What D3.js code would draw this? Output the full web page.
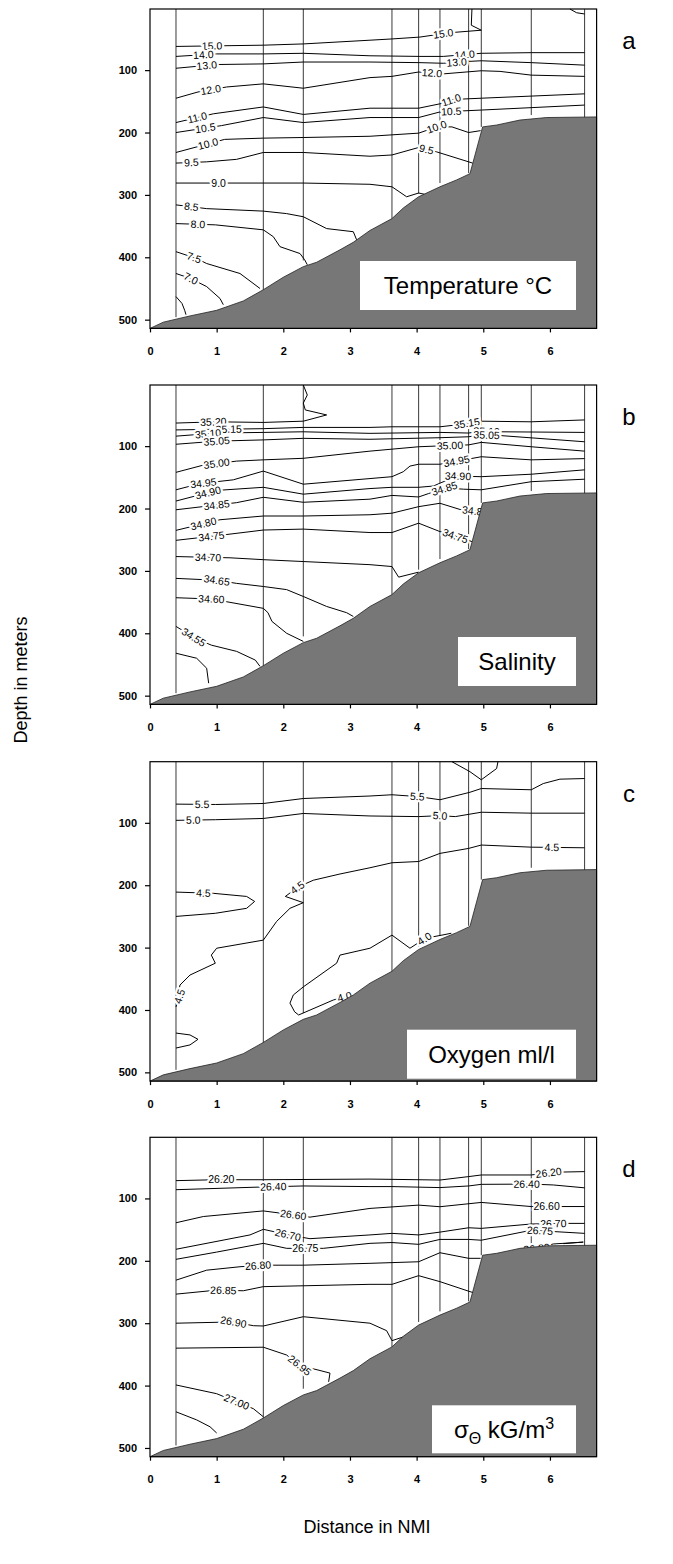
<!DOCTYPE html>
<html>
<head>
<meta charset="utf-8">
<script src="https://cdn.jsdelivr.net/npm/d3@7"></script>
<style>
  body { margin: 0; background: #fff; }
  svg { display: block; }
  text { font-family: "Liberation Sans", Arial, sans-serif; }
</style>
</head>
<body>
<svg id="chart" width="673" height="1564"></svg>
<script>
// ---- Section geometry (distance in nautical miles, depth in metres) ----
const xTicks = [0, 1, 2, 3, 4, 5, 6];
const yTicks = [100, 200, 300, 400, 500];

// CTD stations: position and deepest cast depth
const stationX     = [0.39, 1.70, 2.30, 3.63, 4.03, 4.35, 4.78, 4.97, 5.72, 6.52];
const stationDepth = [496, 453, 405, 338, 298, 281, 265, 191, 172, 177];

// Sea floor profile
const bottomX     = [0, 0.2, 0.6, 1.0, 1.4, 1.7, 2.0, 2.3, 2.5, 2.85, 3.05, 3.3, 3.63, 3.8, 4.03, 4.35, 4.6, 4.8, 4.99, 5.2, 5.55, 5.95, 6.7];
const bottomDepth = [514, 504, 494, 485, 470, 452, 432, 415, 408, 388, 376, 357, 338, 321, 303, 287, 276, 266, 191, 188, 180, 176, 175];

// ---- Temperature (°C) isolines ----
const temperature = [
  { v: "15.0", pts: [[0.39,62],[1.70,60],[2.30,58],[3.30,52],[3.63,50],[4.05,47],[4.50,40],[4.97,36],[4.82,28],[4.83,2]], at: [[0.93,60],[4.40,42]] },
  { v: "",     pts: [[6.30,2],[6.40,8],[6.52,10]], at: [] },
  { v: "14.0", pts: [[0.39,78],[1.00,74],[1.70,74],[2.30,73],[3.30,77],[4.05,78],[4.40,78],[4.97,73],[5.72,72],[6.52,72]], at: [[0.80,75],[4.72,74]] },
  { v: "13.0", pts: [[0.39,97],[1.00,91],[1.70,90],[2.30,87],[3.30,87],[4.05,88],[4.40,89],[4.78,86],[4.97,85],[5.72,88],[6.52,92]], at: [[0.85,92],[4.60,87]] },
  { v: "12.0", pts: [[0.39,145],[0.72,135],[1.15,127],[1.70,122],[2.30,129],[3.30,112],[3.63,110],[4.03,103],[4.40,106],[4.97,101],[5.25,102],[5.72,108],[6.52,110]], at: [[0.91,131],[4.23,104]] },
  { v: "11.0", pts: [[0.39,184],[0.95,170],[1.70,159],[2.30,171],[3.30,161],[4.03,161],[4.35,154],[4.55,147],[4.97,145],[6.52,138]], at: [[0.71,176],[4.52,148]] },
  { v: "10.5", pts: [[0.39,200],[1.07,189],[1.70,176],[2.30,184],[3.30,176],[4.03,176],[4.35,167],[4.97,164],[6.52,156]], at: [[0.83,193],[4.52,166]] },
  { v: "10.0", pts: [[0.39,232],[1.12,211],[1.70,209],[2.30,208],[3.30,206],[4.03,201],[4.30,191],[4.53,191],[4.78,200],[4.96,197]], at: [[0.87,218],[4.30,191]] },
  { v: "9.5",  pts: [[0.39,249],[0.85,247],[1.30,243],[1.70,232],[2.30,232],[3.30,238],[3.63,236],[4.03,224],[4.30,231],[4.84,249]], at: [[0.62,248],[4.15,226]] },
  { v: "9.0",  pts: [[0.39,281],[1.70,281],[2.30,281],[3.30,283],[3.63,287],[3.85,303],[4.03,297],[4.12,299]], at: [[1.03,281]] },
  { v: "8.5",  pts: [[0.39,316],[0.85,322],[1.70,326],[2.05,330],[2.30,335],[2.65,354],[3.05,359],[3.10,372]], at: [[0.62,319]] },
  { v: "8.0",  pts: [[0.39,346],[0.98,348],[1.70,356],[1.85,367],[1.95,383],[2.25,394],[2.32,404],[2.36,412]], at: [[0.72,347]] },
  { v: "7.5",  pts: [[0.39,391],[0.70,402],[0.85,410],[1.35,426],[1.65,450]], at: [[0.66,401]] },
  { v: "7.0",  pts: [[0.39,426],[0.61,434],[0.85,447],[1.05,466],[1.10,476]], at: [[0.62,433]] },
  { v: "",     pts: [[0.39,463],[0.48,474],[0.52,485],[0.54,492]], at: [] }
];

// ---- Salinity isolines ----
const salinity = [
  { v: "35.20", pts: [[0.39,63],[1.00,61],[1.70,62],[2.30,60],[2.65,50],[2.33,42],[2.30,31],[2.36,18],[2.30,2]], at: [[0.95,62]] },
  { v: "35.15", pts: [[0.39,74],[1.00,73],[1.70,72],[2.30,70],[3.30,70],[3.63,69],[4.03,69],[4.35,69],[4.60,66],[4.97,60],[5.72,61],[6.52,58]], at: [[1.18,72],[4.75,63]] },
  { v: "35.10", pts: [[0.39,84],[1.00,79],[1.70,78],[2.30,77],[3.30,79.5],[4.35,78],[4.78,79],[4.97,76],[5.25,77],[6.52,78]], at: [[0.87,80],[5.05,76]] },
  { v: "35.05", pts: [[0.39,97],[1.00,92],[1.70,90],[2.30,87.5],[3.30,89],[4.35,86.5],[4.78,85],[4.97,82],[5.25,83],[6.52,93]], at: [[1.00,92],[5.05,83]] },
  { v: "35.00", pts: [[0.39,142],[0.78,131],[1.30,124],[1.70,122],[2.30,119.5],[3.30,108],[4.03,101],[4.50,99],[4.78,98],[4.97,94],[5.72,101],[6.52,108]], at: [[1.00,128],[4.50,99]] },
  { v: "34.95", pts: [[0.39,170],[0.75,160],[1.25,154],[1.70,140],[2.30,161],[3.30,152],[3.63,149],[3.80,141],[3.90,132],[4.03,129],[4.35,129],[4.97,117],[5.72,122],[6.52,120]], at: [[0.80,160],[4.60,124]] },
  { v: "34.90", pts: [[0.39,188],[1.00,171],[1.70,166],[2.30,177],[3.30,168],[3.63,166],[4.03,166],[4.25,164],[4.60,148],[4.97,149],[5.72,145],[6.52,138]], at: [[0.87,175],[4.62,149]] },
  { v: "34.85", pts: [[0.39,202],[1.30,190.6],[1.70,182],[2.30,190],[3.30,185],[3.63,179],[4.03,181.5],[4.18,176],[4.45,167],[4.70,169],[4.97,170],[5.72,157],[6.52,153]], at: [[1.00,194],[4.42,169]] },
  { v: "34.80", pts: [[0.39,235],[1.05,218],[1.70,212],[2.30,212],[3.30,210],[3.63,207.5],[4.03,197],[4.35,191.6],[4.65,201.5],[4.95,205]], at: [[0.80,223],[4.88,204]] },
  { v: "34.75", pts: [[0.39,251],[1.05,243],[1.70,234.5],[2.30,233],[3.30,238.5],[3.63,238.5],[4.03,223.5],[4.35,237],[4.55,243],[4.83,253]], at: [[0.92,245],[4.58,244]] },
  { v: "34.70", pts: [[0.39,277],[1.20,279],[1.70,282],[2.30,285],[3.30,290],[3.63,293],[3.73,310],[4.03,302]], at: [[0.87,278]] },
  { v: "34.65", pts: [[0.39,312],[1.00,315],[1.30,320],[1.70,325],[2.05,330],[2.30,341],[2.65,357],[2.95,367],[3.05,373]], at: [[1.00,316]] },
  { v: "34.60", pts: [[0.39,343],[0.92,345],[1.70,360],[1.77,367],[1.83,381],[2.05,400],[2.30,413]], at: [[0.92,345]] },
  { v: "34.55", pts: [[0.39,389],[0.68,408],[0.92,419],[1.30,429],[1.58,443],[1.65,453]], at: [[0.66,406]] },
  { v: "",      pts: [[0.39,432],[0.70,440],[0.85,456],[0.88,480]], at: [] }
];

// ---- Oxygen (ml/l) isolines ----
const oxygen = [
  { v: "",    pts: [[4.53,2],[4.80,18],[4.97,31],[5.20,13],[5.22,2]], at: [] },
  { v: "5.5", pts: [[0.39,70],[0.98,70.6],[1.70,69],[2.30,61],[3.30,57],[3.63,55],[4.03,58],[4.35,63],[4.80,51],[4.97,45],[5.72,47],[5.90,37],[6.15,30],[6.52,29]], at: [[0.78,70],[4.01,58]] },
  { v: "5.0", pts: [[0.39,96],[0.98,95],[1.70,93],[2.30,85],[3.30,89],[4.03,90],[4.35,88.5],[4.58,90],[4.97,83],[5.72,84.5],[6.52,84.5]], at: [[0.65,96],[4.35,89]] },
  { v: "4.5", pts: [[0.39,395],[0.45,376],[0.43,371],[0.45,360],[0.60,344],[0.98,325],[0.92,312],[1.00,301],[1.70,288],[1.90,258],[2.10,237],[2.30,228],[2.03,218],[2.22,203],[2.45,192],[2.85,182],[3.30,172],[3.63,164],[4.03,162],[4.35,149],[4.78,141],[4.97,135.6],[5.72,139],[6.52,140]], at: [[0.44,378],[2.22,205],[6.03,139]] },
  { v: "4.5", pts: [[0.39,211],[0.95,213],[1.45,218],[1.57,226],[1.45,237],[0.98,245],[0.39,250]], at: [[0.80,212]] },
  { v: "",    pts: [[0.39,437],[0.60,440],[0.72,447],[0.60,456],[0.39,461]], at: [] },
  { v: "4.0", pts: [[2.95,378],[2.75,384],[2.23,408],[2.17,403],[2.10,389],[2.15,376],[2.30,363],[2.80,325],[2.85,312],[3.30,301],[3.63,280],[3.90,301],[4.13,285],[4.38,280],[4.52,277]], at: [[2.92,379],[4.13,288]] }
];

// ---- Potential density anomaly (kg/m3) isolines ----
const density = [
  { v: "26.20", pts: [[0.39,71.5],[1.00,70],[1.70,70],[3.30,69],[3.63,69.4],[4.35,70.5],[4.78,65],[4.97,62.4],[5.72,62.4],[6.05,58],[6.52,57]], at: [[1.07,70],[5.98,58]] },
  { v: "26.40", pts: [[0.39,86],[1.70,81.6],[2.30,80],[3.30,81],[3.63,81],[4.35,82.6],[4.78,80],[4.97,77.4],[5.72,77],[6.05,78.4],[6.52,83]], at: [[1.85,81],[5.65,77]] },
  { v: "26.60", pts: [[0.39,139],[0.80,129],[1.70,120],[2.20,127],[2.40,130],[3.30,116],[4.03,110.7],[4.35,113.3],[4.97,106.4],[5.72,113],[6.52,113]], at: [[2.15,125],[5.95,113]] },
  { v: "26.70", pts: [[0.39,181.5],[1.50,158.5],[1.70,149.5],[2.10,159],[2.40,164.5],[3.30,158.5],[3.63,156],[4.03,158.5],[4.35,154],[4.78,147],[4.97,148],[5.72,141],[6.20,140],[6.52,140]], at: [[2.07,158],[6.05,140]] },
  { v: "26.75", pts: [[0.39,197.6],[1.00,186],[1.70,172],[2.05,180],[2.60,180],[3.30,172],[3.63,170.7],[4.03,173.6],[4.35,165.7],[4.78,165.7],[4.97,167],[5.72,151],[6.52,156]], at: [[2.33,179],[5.85,153]] },
  { v: "26.80", pts: [[0.39,231],[0.85,215],[1.35,209.5],[1.70,207],[2.30,207],[3.30,204],[4.03,201.5],[4.35,187],[4.78,196],[4.96,196]], at: [[1.62,207]] },
  { v: "26.80", pts: [[5.50,183],[5.80,180],[6.05,173],[6.50,170],[6.20,172.5]], at: [[5.80,180]] },
  { v: "26.85", pts: [[0.39,253.4],[1.00,247],[1.40,248],[1.70,241.4],[3.30,237.7],[3.63,237.7],[4.03,223.8],[4.35,233.4],[4.80,249.4],[4.85,251]], at: [[1.10,248]] },
  { v: "26.90", pts: [[0.39,300],[1.25,298],[1.55,304],[1.70,304.5],[2.30,289.6],[3.30,300],[3.55,312],[3.63,328],[3.80,322]], at: [[1.25,299]] },
  { v: "26.95", pts: [[0.39,340],[1.70,338.5],[2.05,351],[2.25,368],[2.52,375],[2.70,380],[2.68,394]], at: [[2.25,367]] },
  { v: "27.00", pts: [[0.39,399],[1.00,413],[1.25,424],[1.55,437],[1.70,450]], at: [[1.30,426]] },
  { v: "",      pts: [[0.39,442],[0.70,455],[0.90,466],[1.00,476]], at: [] }
];

const panels = [
  { letter: "a", lines: temperature, offset: 0,      box: [360, 252, 216, 49], title: "Temperature °C" },
  { letter: "b", lines: salinity,    offset: 376,    box: [458, 252, 118, 49], title: "Salinity" },
  { letter: "c", lines: oxygen,      offset: 752.7,  box: [407, 268, 169, 49], title: "Oxygen ml/l" },
  { letter: "d", lines: density,     offset: 1128.3, box: [432, 268, 144, 48], title: null }
];

const svg = d3.select("#chart");
const x = d3.scaleLinear().domain([0, 6.7]).range([150, 596.6]);
const depthTop = 2, depthBottom = 514;

// Put a label on the nearest point of its isoline, rotated along the local segment
function placeLabel(pix, q) {
  let best = null;
  for (let i = 0; i < pix.length - 1; i++) {
    const a = pix[i], b = pix[i + 1];
    const dx = b[0] - a[0], dy = b[1] - a[1];
    const L2 = dx * dx + dy * dy;
    let t = L2 ? ((q[0] - a[0]) * dx + (q[1] - a[1]) * dy) / L2 : 0;
    t = Math.max(0, Math.min(1, t));
    const p = [a[0] + t * dx, a[1] + t * dy];
    const dist = Math.hypot(p[0] - q[0], p[1] - q[1]);
    if (!best || dist < best.dist) best = { dist, p, ang: Math.atan2(dy, dx) * 180 / Math.PI };
  }
  let ang = best.ang;
  if (ang > 90) ang -= 180;
  if (ang < -90) ang += 180;
  return { x: best.p[0], y: best.p[1], ang };
}

panels.forEach(panel => {
  const y = d3.scaleLinear().domain([depthTop, depthBottom]).range([9 + panel.offset, 328.4 + panel.offset]);
  const g = svg.append("g");
  const x0 = x(0), x1 = x(6.7), y0 = y(depthTop), y1 = y(depthBottom);

  // station casts
  g.append("g").selectAll("line").data(stationX).join("line")
    .attr("x1", d => x(d)).attr("x2", d => x(d))
    .attr("y1", y0).attr("y2", (d, i) => y(stationDepth[i]))
    .attr("stroke", "#3a3a3a").attr("stroke-width", 1);

  // isolines
  const line = d3.line().x(d => x(d[0])).y(d => y(d[1]));
  g.append("g").selectAll("path").data(panel.lines).join("path")
    .attr("d", d => line(d.pts))
    .attr("fill", "none").attr("stroke", "#000").attr("stroke-width", 1)
    .attr("stroke-linejoin", "round");

  // isoline labels
  const labels = [];
  panel.lines.forEach(c => {
    const pix = c.pts.map(p => [x(p[0]), y(p[1])]);
    c.at.forEach(a => {
      const pl = placeLabel(pix, [x(a[0]), y(a[1])]);
      labels.push({ text: c.v, ...pl });
    });
  });
  g.append("g").selectAll("text").data(labels).join("text")
    .attr("transform", d => `translate(${d.x},${d.y}) rotate(${d.ang})`)
    .attr("text-anchor", "middle").attr("dy", "0.35em")
    .attr("font-size", 10.5)
    .attr("paint-order", "stroke").attr("stroke", "#fff").attr("stroke-width", 4.5)
    .attr("stroke-linejoin", "round").attr("fill", "#000")
    .text(d => d.text);

  // sea floor
  const floor = bottomX.map((v, i) => [v, bottomDepth[i]]);
  const area = d3.area().x(d => x(d[0])).y0(y1).y1(d => y(d[1]));
  g.append("path").attr("d", area(floor))
    .attr("fill", "#777777").attr("stroke", "#222").attr("stroke-width", 0.8);

  // frame
  g.append("rect").attr("x", x0).attr("y", y0).attr("width", x1 - x0).attr("height", y1 - y0)
    .attr("fill", "none").attr("stroke", "#000").attr("stroke-width", 1.2);

  // axes
  const ax = g.append("g").attr("transform", `translate(0,${y1})`)
    .call(d3.axisBottom(x).tickValues(xTicks).tickSize(4).tickSizeOuter(0).tickPadding(15).tickFormat(d3.format("d")));
  const ay = g.append("g").attr("transform", `translate(${x0},0)`)
    .call(d3.axisLeft(y).tickValues(yTicks).tickSize(5).tickSizeOuter(0).tickPadding(8).tickFormat(d3.format("d")));
  [ax, ay].forEach(a => {
    a.select(".domain").remove();
    a.selectAll("text").attr("font-size", 11).attr("font-weight", "bold")
      .attr("font-family", "'Liberation Sans', Arial, sans-serif").attr("fill", "#000");
    a.selectAll("line").attr("stroke", "#000").attr("stroke-width", 1.2);
  });

  // caption box
  const [bx, by, bw, bh] = panel.box;
  g.append("rect").attr("x", bx).attr("y", y0 + by).attr("width", bw).attr("height", bh).attr("fill", "#fff");
  const cap = g.append("text").attr("x", bx + bw / 2).attr("y", y0 + by + 33)
    .attr("text-anchor", "middle").attr("font-size", 24).attr("fill", "#000");
  if (panel.title) {
    cap.text(panel.title);
  } else {
    cap.append("tspan").text("σ");
    cap.append("tspan").attr("font-size", 16).attr("dy", 6).text("Θ");
    cap.append("tspan").attr("dy", -6).text(" kG/m");
    cap.append("tspan").attr("font-size", 16).attr("dy", -9).text("3");
  }

  // panel letter
  g.append("text").attr("x", 629).attr("y", y0 + 40).attr("text-anchor", "middle")
    .attr("font-size", 24).attr("fill", "#000").text(panel.letter);
});

// axis titles
svg.append("text").attr("transform", "translate(27,680) rotate(-90)")
  .attr("text-anchor", "middle").attr("font-size", 18).attr("fill", "#000").text("Depth in meters");
svg.append("text").attr("x", 367).attr("y", 1533)
  .attr("text-anchor", "middle").attr("font-size", 18).attr("fill", "#000").text("Distance in NMI");
</script>
</body>
</html>
